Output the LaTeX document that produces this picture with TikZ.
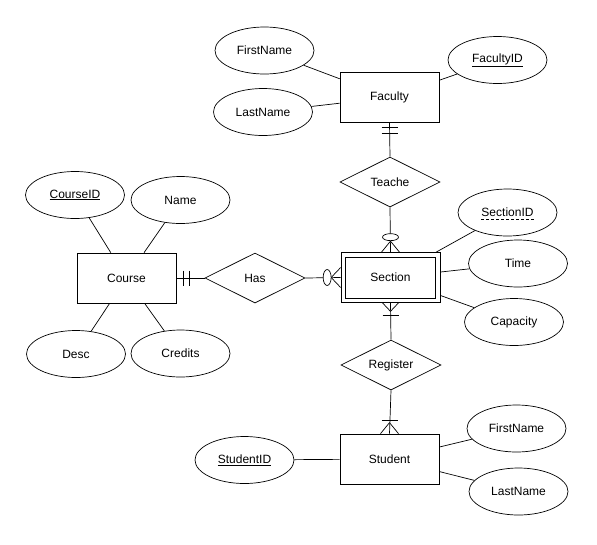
\documentclass[tikz,border=0pt]{standalone}
\usepackage{fontspec}
\setmainfont{Liberation Sans}
\usetikzlibrary{shapes.geometric}

\tikzset{
  entity/.style={draw, rectangle, minimum width=99pt, minimum height=50pt, inner sep=0pt},
  attr/.style={draw, ellipse, minimum width=99pt, minimum height=47pt, inner sep=0pt},
  rel/.style={draw, diamond, aspect=2, minimum width=100pt, minimum height=50pt, inner sep=0pt},
  link/.style={line width=0.7pt}
}

\begin{document}
\begin{tikzpicture}[x=1pt, y=-1pt, line width=0.7pt, font=\fontsize{12}{14}\selectfont]
  \useasboundingbox (0,0) rectangle (597,544);

  % entities
  \node[entity] (faculty) at (389.5,97.5) {Faculty};
  \node[entity] (section) at (390.5,277.5) {Section};
  \draw ([xshift=5pt,yshift=-5pt]section.north west) rectangle ([xshift=-5pt,yshift=5pt]section.south east);
  \node[entity] (course) at (126.5,278) {Course};
  \node[entity] (student) at (389.5,459) {Student};

  % relationships
  \node[rel] (teache) at (390,182) {Teache};
  \node[rel] (has) at (255,278) {Has};
  \node[rel] (register) at (391,365) {Register};

  % attributes
  \node[attr] (ffirst) at (264.5,50.5) {FirstName};
  \node[attr] (flast) at (263,112) {LastName};
  \node[attr] (fid) at (497.5,60) {\underline{FacultyID}};
  \node[attr] (sid) at (507.5,212.5) {};
  \node[inner sep=0pt] (sidtext) at (sid) {SectionID};
  \draw[dash pattern=on 3pt off 2pt, line width=0.6pt] ([yshift=-2.5pt]sidtext.base west) -- ([yshift=-2.5pt]sidtext.base east);
  \node[attr] (time) at (518,263.5) {Time};
  \node[attr] (capacity) at (514,322) {Capacity};
  \node[attr] (cid) at (75,195) {\underline{CourseID}};
  \node[attr] (cname) at (180.5,200) {Name};
  \node[attr] (desc) at (76,354) {Desc};
  \node[attr] (credits) at (180.5,353.5) {Credits};
  \node[attr] (stid) at (244.5,460) {\underline{StudentID}};
  \node[attr] (sfirst) at (516.5,428.5) {FirstName};
  \node[attr] (slast) at (518.5,491.5) {LastName};

  % attribute links
  \draw[link] (ffirst) -- (faculty);
  \draw[link] (flast) -- (faculty);
  \draw[link] (fid) -- (faculty);
  \draw[link] (sid) -- (section);
  \draw[link] (time) -- (section);
  \draw[link] (capacity) -- (section);
  \draw[link] (cid) -- (course);
  \draw[link] (cname) -- (course);
  \draw[link] (desc) -- (course);
  \draw[link] (credits) -- (course);
  \draw[link] (stid) -- (student);
  \draw[link] (sfirst) -- (student);
  \draw[link] (slast) -- (student);

  % relationship links
  \draw[link] (faculty.south) -- (teache.north);
  \draw[link] (teache.south) -- (section.north);
  \draw[link] (has.west) -- (course.east);
  \draw[link] (has.east) -- (section.west);
  \draw[link] (section.south) -- (register.north);
  \draw[link] (register.south) -- (student.north);

  % Faculty: exactly one
  \draw ([xshift=-8pt,yshift=-4pt]faculty.south) -- ([xshift=8pt,yshift=-4pt]faculty.south);
  \draw ([xshift=-8pt,yshift=-10pt]faculty.south) -- ([xshift=8pt,yshift=-10pt]faculty.south);

  % Section (Teache): zero or many
  \draw ([yshift=11pt]section.north) -- ([xshift=-9pt]section.north);
  \draw ([yshift=11pt]section.north) -- ([xshift=9pt]section.north);
  \draw[fill=white] ([yshift=15pt]section.north) ellipse (8pt and 3.5pt);

  % Course: exactly one
  \draw ([xshift=6.5pt,yshift=7.5pt]course.east) -- ([xshift=6.5pt,yshift=-7.5pt]course.east);
  \draw ([xshift=12.5pt,yshift=7.5pt]course.east) -- ([xshift=12.5pt,yshift=-7.5pt]course.east);

  % Section (Has): zero or many
  \draw ([xshift=-9.5pt]section.west) -- ([yshift=10pt]section.west);
  \draw ([xshift=-9.5pt]section.west) -- ([yshift=-10pt]section.west);
  \draw[fill=white] ([xshift=-13.5pt]section.west) ellipse (4pt and 8pt);

  % Section (Register): one or many
  \draw ([yshift=-8.5pt]section.south) -- ([xshift=-8pt]section.south);
  \draw ([yshift=-8.5pt]section.south) -- ([xshift=8pt]section.south);
  \draw ([xshift=-8pt,yshift=-12pt]section.south) -- ([xshift=8pt,yshift=-12pt]section.south);

  % Student: one or many
  \draw ([xshift=-8pt,yshift=13pt]student.north) -- ([xshift=8pt,yshift=13pt]student.north);
  \draw ([yshift=11pt]student.north) -- ([xshift=-9pt]student.north);
  \draw ([yshift=11pt]student.north) -- ([xshift=9pt]student.north);
\end{tikzpicture}
\end{document}
